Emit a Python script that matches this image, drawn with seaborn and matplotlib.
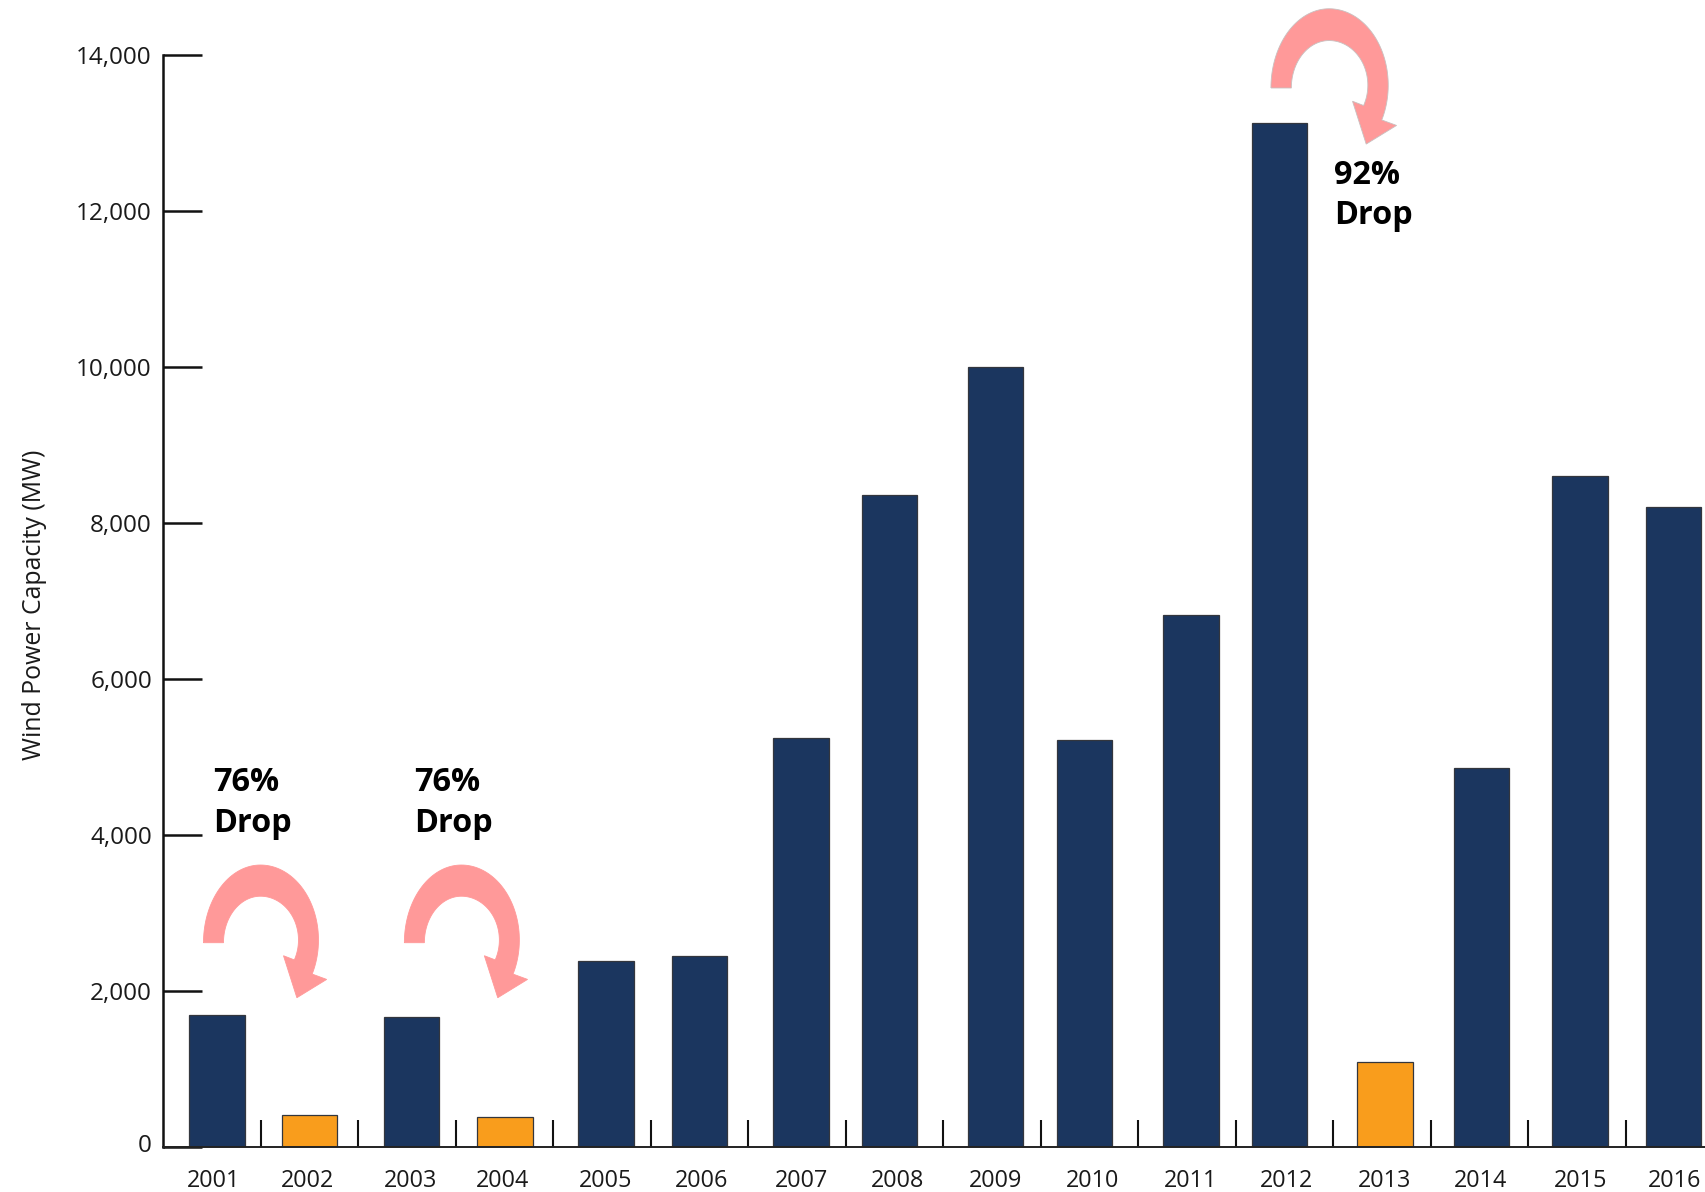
import numpy as np
import pandas as pd
import seaborn as sns
import matplotlib
matplotlib.use("Agg")
import matplotlib.pyplot as plt
from matplotlib.patches import PathPatch
from matplotlib.path import Path
from matplotlib.ticker import FuncFormatter, FixedLocator
from matplotlib.transforms import Affine2D, ScaledTranslation

# Annual US wind capacity additions
years = [2001, 2002, 2003, 2004, 2005, 2006, 2007, 2008,
         2009, 2010, 2011, 2012, 2013, 2014, 2015, 2016]
capacity_mw = [1687, 410, 1667, 389, 2385, 2454, 5250, 8358,
               10000, 5214, 6816, 13131, 1087, 4854, 8598, 8203]
drop_years = [2002, 2004, 2013]

# Hand-placed layout of the columns and year labels, in fractions of a slot
bar_shift = [0.05, 0.0, 0.045, 0.005, 0.04, 0.0, 0.04, -0.05,
             0.033, -0.05, 0.04, -0.05, 0.028, 0.017, 0.028, -0.011]
label_shift = [0.011, -0.019, 0.04, -0.022, 0.036, 0.017, 0.045, 0.033,
               0.038, 0.033, 0.033, 0.022, 0.022, 0.011, 0.033, 0.0]

NAVY = "#1B365F"
ORANGE = "#F99D1C"
PINK = "#FF9999"
INK = "#1a1a1a"

sns.set_style("white")
plt.rcParams["font.family"] = ["Open Sans", "DejaVu Sans"]

W, H = 1705, 1192
fig = plt.figure(figsize=(W / 100, H / 100), dpi=100, facecolor="white")
ax = fig.add_axes([163 / W, 1 - 1147 / H, (W - 163) / W, (1147 - 55) / H])

df = pd.DataFrame({"year": [str(y) for y in years], "capacity": capacity_mw})
df["kind"] = ["drop" if y in drop_years else "normal" for y in years]

sns.barplot(data=df, x="year", y="capacity", hue="kind",
            palette={"normal": NAVY, "drop": ORANGE}, dodge=False,
            width=0.567, edgecolor="#33363d", linewidth=0.9,
            legend=False, saturation=1, ax=ax)

for patch in ax.patches:
    slot = int(round(patch.get_x() + patch.get_width() / 2))
    patch.set_x(patch.get_x() + bar_shift[slot])

ax.set_xlim(-0.5026, 15.31)
ax.set_ylim(0, 14000)

# Axis frame
sns.despine(ax=ax, top=True, right=True)
ax.spines["left"].set_linewidth(1.8)
ax.spines["left"].set_color("#111111")
ax.spines["bottom"].set_linewidth(1.4)
ax.spines["bottom"].set_color("#222222")

# Value axis
ax.set_yticks(np.arange(0, 14001, 2000))
ax.yaxis.set_major_formatter(FuncFormatter(lambda v, _: f"{int(v):,}"))
ax.tick_params(axis="y", which="major", direction="in", length=28, width=1.8,
               color="#111111", labelsize=17.5, labelcolor=INK, pad=8, left=True)

# The zero label sits slightly above its tick
zero_label = ax.get_yticklabels()[0]
zero_label.set_transform(zero_label.get_transform()
                         + ScaledTranslation(0, 0.043, fig.dpi_scale_trans))

# Year labels sit under the slots, separators rise between them
ax.xaxis.set_minor_locator(FixedLocator(np.arange(0.5, 15.0, 1.0)))
ax.tick_params(axis="x", which="minor", direction="in", length=19.5, width=1.5,
               color="#111111", bottom=True)
ax.tick_params(axis="x", which="major", length=0, labelsize=16.8, labelcolor=INK, pad=16)
ax.set_xlabel("")

for i, lab in enumerate(ax.get_xticklabels()):
    dx = label_shift[i] * 97.5 / 100
    lab.set_transform(lab.get_transform() + ScaledTranslation(dx, 0, fig.dpi_scale_trans))

ax.set_ylabel("Wind Power Capacity (MW)", fontsize=17.9, color=INK)
ax.yaxis.set_label_coords(-0.075, 0.4967)


def curved_arrow(x, y, scale=1.0, outline=None):
    """Clockwise curved arrow anchored at the centre of its tail, sized in pixels."""
    left = np.radians(np.linspace(180, 90, 40))
    right = np.radians(np.linspace(90, -27, 50))
    outer = np.r_[np.c_[57 * np.cos(left), 77.7 * np.sin(left)],
                  np.c_[58 * np.cos(right), 2.7 + 75 * np.sin(right)]]
    inner = np.r_[np.c_[37 * np.cos(left), 46.5 * np.sin(left)],
                  np.c_[38 * np.cos(right), 2.7 + 43.8 * np.sin(right)]]
    head = np.array([[66.2, -36.7], [36.4, -55.0], [23.0, -13.0]])
    pts = np.r_[outer, head, inner[::-1], outer[:1]]
    px, py = ax.transData.transform((x, y))
    tr = Affine2D().scale(scale).translate(px, py)
    ax.add_patch(PathPatch(Path(pts), facecolor=PINK,
                           edgecolor=outline or PINK, linewidth=0.6,
                           transform=tr, clip_on=False, zorder=5))


curved_arrow(0.497, 2619)
curved_arrow(2.557, 2619)
curved_arrow(11.455, 13577, scale=1.02, outline="#c9c0c0")

# Drop callouts
note_style = dict(fontsize=23.3, fontweight="bold", color="black", va="center", ha="left", zorder=6)
for x, y_top, y_bottom, pct in [(0.015, 4667, 4150, "76%"),
                                (2.075, 4667, 4150, "76%"),
                                (11.505, 12459, 11942, "92%")]:
    ax.text(x, y_top, pct, **note_style)
    ax.text(x, y_bottom, "Drop", **note_style)

fig.savefig("out.png", dpi=100, facecolor="white")
